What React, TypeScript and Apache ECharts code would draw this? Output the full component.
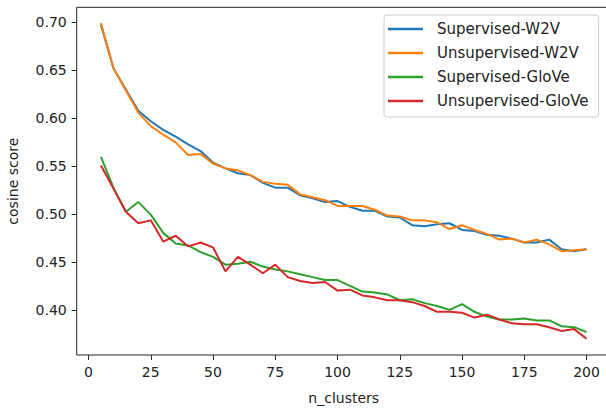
import React, { useEffect, useRef } from "react";
import * as echarts from "echarts";

const nClusters = [5, 10, 15, 20, 25, 30, 35, 40, 45, 50, 55, 60, 65, 70, 75, 80, 85, 90, 95, 100, 105, 110, 115, 120, 125, 130, 135, 140, 145, 150, 155, 160, 165, 170, 175, 180, 185, 190, 195, 200];

const supervisedW2V = [0.697, 0.652, 0.630, 0.608, 0.597, 0.588, 0.581, 0.573, 0.566, 0.554, 0.548, 0.543, 0.541, 0.533, 0.528, 0.528, 0.520, 0.517, 0.513, 0.514, 0.508, 0.504, 0.504, 0.498, 0.497, 0.489, 0.488, 0.490, 0.491, 0.484, 0.483, 0.479, 0.478, 0.475, 0.471, 0.471, 0.474, 0.464, 0.462, 0.464];
const unsupervisedW2V = [0.699, 0.652, 0.629, 0.606, 0.592, 0.583, 0.575, 0.562, 0.563, 0.553, 0.548, 0.546, 0.541, 0.534, 0.532, 0.531, 0.521, 0.518, 0.515, 0.509, 0.509, 0.509, 0.505, 0.499, 0.498, 0.494, 0.494, 0.492, 0.485, 0.489, 0.484, 0.480, 0.474, 0.475, 0.471, 0.474, 0.469, 0.462, 0.463, 0.464];
const supervisedGloVe = [0.560, 0.528, 0.503, 0.513, 0.500, 0.481, 0.470, 0.468, 0.461, 0.456, 0.448, 0.449, 0.451, 0.446, 0.443, 0.441, 0.438, 0.435, 0.432, 0.432, 0.426, 0.420, 0.419, 0.417, 0.411, 0.412, 0.408, 0.405, 0.401, 0.407, 0.399, 0.394, 0.391, 0.391, 0.392, 0.390, 0.390, 0.384, 0.383, 0.378];
const unsupervisedGloVe = [0.551, 0.527, 0.503, 0.491, 0.494, 0.472, 0.478, 0.467, 0.471, 0.466, 0.441, 0.456, 0.448, 0.439, 0.448, 0.435, 0.431, 0.429, 0.430, 0.421, 0.422, 0.416, 0.414, 0.411, 0.411, 0.409, 0.405, 0.399, 0.399, 0.398, 0.393, 0.396, 0.391, 0.387, 0.386, 0.386, 0.383, 0.379, 0.381, 0.371];

const seriesNames = ["Supervised-W2V", "Unsupervised-W2V", "Supervised-GloVe", "Unsupervised-GloVe"];
const seriesColors = ["#1f77b4", "#ff7f0e", "#2ca02c", "#d62728"];
const seriesData = [supervisedW2V, unsupervisedW2V, supervisedGloVe, unsupervisedGloVe];

const xTickMin = 0;
const xTickMax = 200;
const xTickStep = 25;
const yTickMin = 0.4;
const yTickMax = 0.7;
const yTickStep = 0.05;

const FONT = "DejaVu Sans";

export default function App() {
  const ref = useRef<HTMLDivElement>(null);

  useEffect(() => {
    if (!ref.current) return;
    const chart = echarts.init(ref.current, null, { renderer: "svg" });

    // plot frame geometry (pixels)
    const frameLeft = 76.7;
    const frameTop = 7.3;
    const frameBottom = 355;
    const xMin = -4.75;
    const xMax = 209.75;
    const yMin = 0.3541;
    const yMax = 0.7154;
    const x0px = 88.5;
    const pxPerX = 2.49;
    const pxPerY = 960;
    const frameWidth = (xMax - xMin) * pxPerX;
    const frameHeight = frameBottom - frameTop;
    const y07px = frameTop + (yMax - yTickMax) * pxPerY;

    const tickLabelStyle = { fontFamily: FONT, fontSize: 14, color: "#222" };

    const option: any = {
      animation: false,
      backgroundColor: "#fff",
      grid: [
        {
          left: frameLeft, top: frameTop, width: frameWidth, height: frameHeight,
          show: true, borderColor: "#262626", borderWidth: 1, backgroundColor: "transparent",
          containLabel: false, outerBoundsMode: "none",
        },
        {
          left: x0px, top: frameTop, width: (xTickMax - xTickMin) * pxPerX, height: frameHeight,
          containLabel: false, outerBoundsMode: "none",
        },
        {
          left: frameLeft, top: y07px, width: frameWidth, height: (yTickMax - yTickMin) * pxPerY,
          containLabel: false, outerBoundsMode: "none",
        },
      ],
      xAxis: [
        {
          gridIndex: 0, type: "value", min: xMin, max: xMax,
          axisLine: { show: false }, axisTick: { show: false }, axisLabel: { show: false }, splitLine: { show: false },
          name: "n_clusters", nameLocation: "middle", nameGap: 36,
          nameTextStyle: { fontFamily: FONT, fontSize: 14, color: "#222" },
        },
        {
          gridIndex: 1, type: "value", min: xTickMin, max: xTickMax, interval: xTickStep,
          axisLine: { show: false },
          axisTick: { show: true, inside: false, length: 5, lineStyle: { color: "#262626", width: 1 } },
          axisLabel: { ...tickLabelStyle, margin: 10 },
          splitLine: { show: false },
        },
        { gridIndex: 2, type: "value", show: false, min: 0, max: 1 },
      ],
      yAxis: [
        {
          gridIndex: 0, type: "value", min: yMin, max: yMax,
          axisLine: { show: false }, axisTick: { show: false }, axisLabel: { show: false }, splitLine: { show: false },
          name: "cosine score", nameLocation: "middle", nameGap: 57,
          nameTextStyle: { fontFamily: FONT, fontSize: 14, color: "#222" },
        },
        { gridIndex: 1, type: "value", show: false, min: 0, max: 1 },
        {
          gridIndex: 2, type: "value", min: yTickMin, max: yTickMax, interval: yTickStep,
          axisLine: { show: false },
          axisTick: { show: true, inside: false, length: 5, lineStyle: { color: "#262626", width: 1 } },
          axisLabel: { ...tickLabelStyle, margin: 10, formatter: (v: number) => v.toFixed(2) },
          splitLine: { show: false },
        },
      ],
      legend: {
        data: seriesNames,
        orient: "vertical",
        left: 384,
        top: 15,
        padding: [6, 10, 8, 4],
        itemWidth: 35,
        itemHeight: 2.5,
        itemGap: 8,
        icon: "rect",
        backgroundColor: "rgba(255,255,255,0.8)",
        borderColor: "#cccccc",
        borderWidth: 1,
        borderRadius: 3,
        textStyle: { fontFamily: FONT, fontSize: 15, color: "#222", lineHeight: 16, padding: [0, 0, 0, 9] },
      },
      series: seriesNames.map((name, i) => ({
        name,
        type: "line",
        xAxisIndex: 0,
        yAxisIndex: 0,
        data: nClusters.map((x, j) => [x, seriesData[i][j]]),
        showSymbol: false,
        symbol: "none",
        lineStyle: { color: seriesColors[i], width: 2 },
        itemStyle: { color: seriesColors[i] },
        emphasis: { disabled: true },
      })),
    };

    chart.setOption(option);
    return () => chart.dispose();
  }, []);

  return (
    <div
      ref={ref}
      style={{ position: "fixed", left: 0, top: 0, width: 606, height: 410, background: "#fff" }}
    />
  );
}
